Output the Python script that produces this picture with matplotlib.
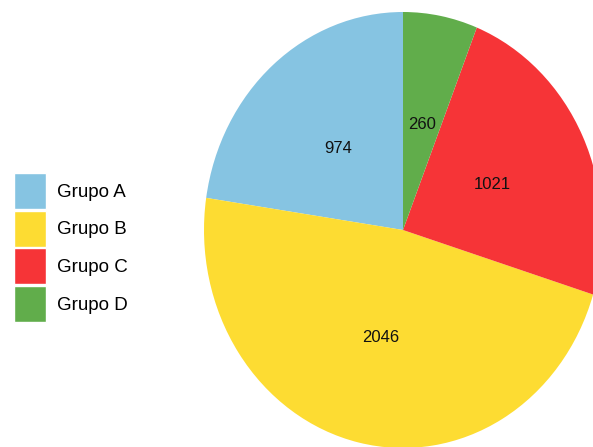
import matplotlib.pyplot as plt
from matplotlib.patches import Patch

# Data
groups = ["Grupo A", "Grupo B", "Grupo C", "Grupo D"]
values = [974, 2046, 1021, 260]
colors = ["#86C4E2", "#FDDC32", "#F63437", "#61AD4B"]

plt.rcParams["font.family"] = ["Liberation Sans", "DejaVu Sans"]

fig = plt.figure(figsize=(5.93, 4.47), dpi=100)

# pie drawn slightly elliptical, as in the reference
ax = fig.add_axes([204 / 593, -1 / 447, 398 / 593, 436 / 447])
wedges, texts = ax.pie(
    values,
    labels=[str(v) for v in values],
    colors=colors,
    startangle=90,
    counterclock=True,
    labeldistance=0.5,
    radius=1,
    textprops={"fontsize": 12, "color": "#111111"},
)
for t in texts:
    t.set_horizontalalignment("center")
    t.set_verticalalignment("center_baseline")
ax.set_aspect("auto")
ax.set_xlim(-1, 1)
ax.set_ylim(-1, 1)

handles = [Patch(facecolor=c, edgecolor="white", linewidth=1) for c in colors]
fig.legend(
    handles,
    groups,
    loc="upper left",
    bbox_to_anchor=(14 / 593, 1 - 173 / 447),
    bbox_transform=fig.transFigure,
    frameon=False,
    fontsize=13.5,
    handlelength=1.72,
    handleheight=2.58,
    handletextpad=0.55,
    labelspacing=0.09,
    borderpad=0,
    borderaxespad=0,
)

fig.savefig("out.png", dpi=100)
